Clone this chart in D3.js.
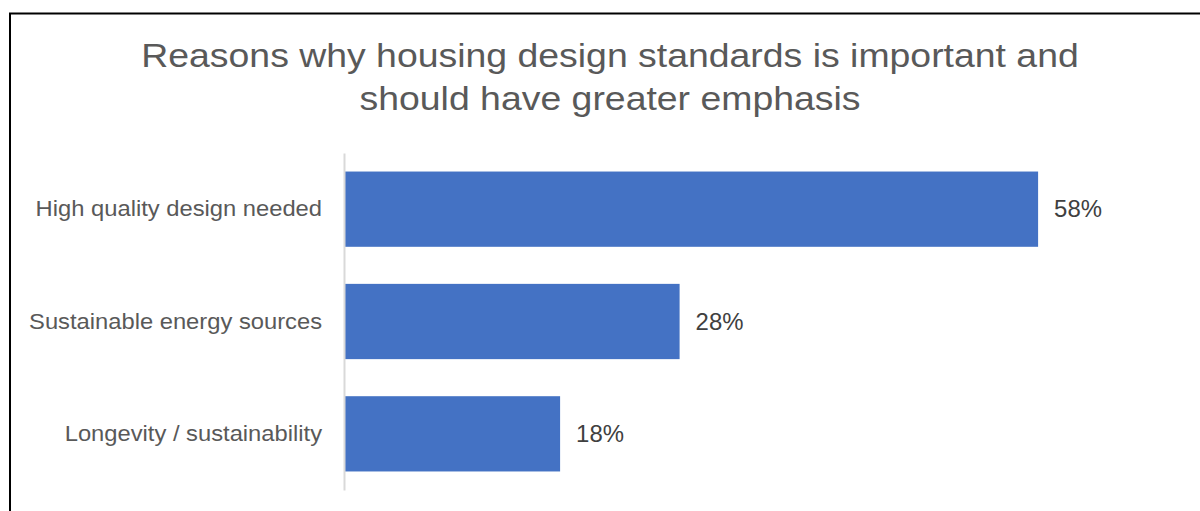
<!DOCTYPE html>
<html>
<head>
<meta charset="utf-8">
<script src="https://cdn.jsdelivr.net/npm/d3@7"></script>
<style>
  html, body { margin: 0; padding: 0; background: #fff; }
  svg { display: block; }
  text { font-family: "Liberation Sans", Arial, sans-serif; }
</style>
</head>
<body>
<svg id="chart" width="1200" height="511"></svg>
<script>
const categories = ["High quality design needed", "Sustainable energy sources", "Longevity / sustainability"];
const values = [58, 28, 18];
const valueLabels = ["58%", "28%", "18%"];
const titleLines = ["Reasons why housing design standards is important and", "should have greater emphasis"];

const svg = d3.select("#chart");

// outer border (only left and top visible in the frame)
svg.append("rect")
  .attr("x", 10).attr("y", 13.5)
  .attr("width", 1300).attr("height", 700)
  .attr("fill", "none").attr("stroke", "#000").attr("stroke-width", 2);

// title
svg.append("g").selectAll("text").data(titleLines).join("text")
  .attr("transform", (d, i) => `translate(610,${67 + i * 43}) scale(1.1,1)`)
  .attr("text-anchor", "middle")
  .attr("font-size", 34)
  .attr("fill", "#595959")
  .text(d => d);

const x = d3.scaleLinear().domain([0, 60]).range([345, 1062]);
const y = d3.scaleBand().domain(categories).range([153, 490]).paddingInner(0.33).paddingOuter(0.165);

// bars
svg.append("g").selectAll("rect").data(values).join("rect")
  .attr("x", x(0))
  .attr("y", (d, i) => y(categories[i]))
  .attr("width", d => x(d) - x(0))
  .attr("height", y.bandwidth())
  .attr("fill", "#4472C4");

// axis line + category labels
const yAxis = d3.axisLeft(y).tickSize(0).tickPadding(22);
const ax = svg.append("g").attr("transform", `translate(${x(0) - 1},0)`).call(yAxis);
ax.select(".domain").attr("stroke", "#D9D9D9").attr("stroke-width", 2);
ax.selectAll(".tick text")
  .attr("font-family", "\"Liberation Sans\", Arial, sans-serif")
  .attr("font-size", 22)
  .attr("fill", "#595959")
  .attr("transform", "translate(-22,0) scale(1.08,1)")
  .attr("x", 0);

// value labels
svg.append("g").selectAll("text").data(values).join("text")
  .attr("transform", (d, i) => `translate(${x(d) + 16},${y(categories[i]) + y.bandwidth() / 2}) scale(1.04,1)`)
  .attr("dy", "0.35em")
  .attr("font-size", 23)
  .attr("fill", "#404040")
  .text((d, i) => valueLabels[i]);
</script>
</body>
</html>
